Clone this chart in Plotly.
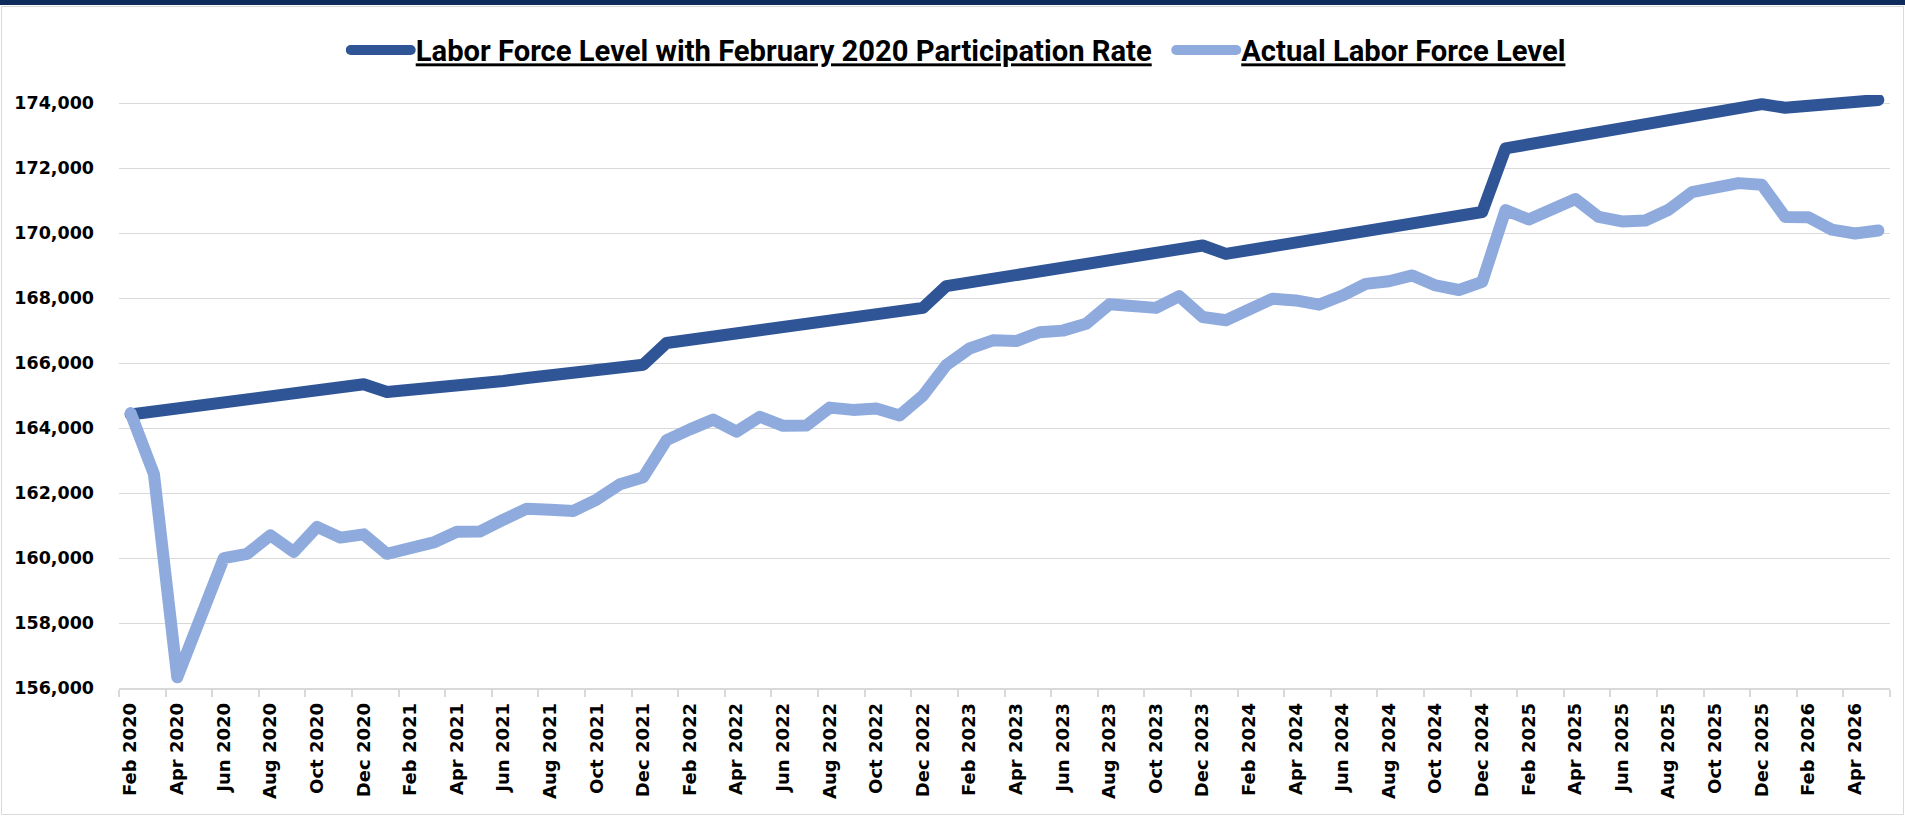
import plotly.graph_objects as go

months = [
    "Feb 2020", "Mar 2020", "Apr 2020", "May 2020", "Jun 2020", "Jul 2020", "Aug 2020", "Sep 2020",
    "Oct 2020", "Nov 2020", "Dec 2020", "Jan 2021", "Feb 2021", "Mar 2021", "Apr 2021", "May 2021",
    "Jun 2021", "Jul 2021", "Aug 2021", "Sep 2021", "Oct 2021", "Nov 2021", "Dec 2021", "Jan 2022",
    "Feb 2022", "Mar 2022", "Apr 2022", "May 2022", "Jun 2022", "Jul 2022", "Aug 2022", "Sep 2022",
    "Oct 2022", "Nov 2022", "Dec 2022", "Jan 2023", "Feb 2023", "Mar 2023", "Apr 2023", "May 2023",
    "Jun 2023", "Jul 2023", "Aug 2023", "Sep 2023", "Oct 2023", "Nov 2023", "Dec 2023", "Jan 2024",
    "Feb 2024", "Mar 2024", "Apr 2024", "May 2024", "Jun 2024", "Jul 2024", "Aug 2024", "Sep 2024",
    "Oct 2024", "Nov 2024", "Dec 2024", "Jan 2025", "Feb 2025", "Mar 2025", "Apr 2025", "May 2025",
    "Jun 2025", "Jul 2025", "Aug 2025", "Sep 2025", "Oct 2025", "Nov 2025", "Dec 2025", "Jan 2026",
    "Feb 2026", "Mar 2026", "Apr 2026", "May 2026",
]

lf_feb2020_rate = [
    164420, 164510, 164600, 164700, 164790, 164890, 164990, 165080, 165170, 165260, 165350,
    165110, 165160, 165210, 165280, 165360, 165450, 165540, 165640, 165720, 165800, 165880, 165950,
    166620, 166720, 166820, 166910, 166970, 167060, 167160, 167260, 167360, 167460, 167580, 167700,
    168370, 168480, 168590, 168700, 168820, 168930, 169040, 169160, 169280, 169390, 169510, 169620,
    169360, 169470, 169580, 169700, 169820, 169940, 170060, 170180, 170310, 170420, 170540, 170650,
    172610, 172730, 172850, 172980, 173110, 173240, 173370, 173500, 173630, 173750, 173860, 173970,
    173860, 173920, 173980, 174040, 174100,
]

lf_actual = [
    164460, 162580, 156330, 158280, 160000, 160130, 160700, 160190, 160960, 160630, 160730,
    160130, 160290, 160480, 160810, 160820, 161180, 161520, 161490, 161450, 161800, 162270, 162490,
    163630, 163960, 164260, 163890, 164350, 164070, 164080, 164630, 164560, 164600, 164390, 165000,
    165940, 166450, 166700, 166680, 166950, 167000, 167210, 167810, 167780, 167700, 168060, 167420,
    167320, 167620, 167980, 167930, 167800, 168080, 168440, 168520, 168700, 168390, 168250, 168500,
    170710, 170420, 170690, 171050, 170500, 170360, 170390, 170720, 171260, 171400, 171540, 171490,
    170500, 170490, 170110, 169990, 170080,
]

tick_labels = months[::2]
y_ticks = [156000, 158000, 160000, 162000, 164000, 166000, 168000, 170000, 172000, 174000]

DARK = "#2F5597"
LIGHT = "#8FAADC"
GRID = "#D9D9D9"

W, H = 1905, 816
ML, MR, MT, MB = 119, 15, 95, 128
PW, PH = W - ML - MR, H - MT - MB

x_idx = list(range(len(months)))
NB = "\u00a0"

fig = go.Figure()
fig.add_trace(go.Scatter(
    x=x_idx, y=lf_feb2020_rate, mode="lines",
    name="<u>Labor Force Level with February 2020 Participation Rate</u>" + NB * 2,
    line=dict(color=DARK, width=12), customdata=months,
    hovertemplate="%{customdata}: %{y:,}<extra></extra>",
))
fig.add_trace(go.Scatter(
    x=x_idx, y=lf_actual, mode="lines",
    name="<u>Actual Labor Force Level</u>",
    line=dict(color=LIGHT, width=12), customdata=months,
    hovertemplate="%{customdata}: %{y:,}<extra></extra>",
))

def px_x(p):
    return (p - ML) / PW

def px_y(p):
    return (H - MB - p) / PH

y_top = 156000 + (174000 - 156000) * PH / (688 - 103.2)

fig.update_layout(
    width=W, height=H,
    margin=dict(l=ML, r=MR, t=MT, b=MB, autoexpand=False),
    paper_bgcolor="white", plot_bgcolor="white",
    showlegend=True,
    legend=dict(
        orientation="h", xref="container", yref="container",
        x=0.503, xanchor="center", y=1 - 50 / H, yanchor="middle",
        font=dict(family="Roboto, Liberation Sans, sans-serif", size=29.2, color="black", weight="bold"),
        itemwidth=60, bgcolor="rgba(0,0,0,0)", traceorder="normal",
    ),
    xaxis=dict(
        range=[-0.5, len(months) - 0.5],
        tickmode="array", tickvals=x_idx[::2], ticktext=tick_labels,
        tickangle=-90, ticks="", showgrid=False, zeroline=False,
        showline=True, linecolor=GRID, linewidth=1.5,
        tickfont=dict(family="DejaVu Sans", size=18, color="black", weight="bold"),
        ticklabelstandoff=6,
        minor=dict(tickmode="linear", tick0=-0.5, dtick=2, ticks="outside",
                   ticklen=7, tickcolor=GRID, tickwidth=1.5, showgrid=False),
    ),
    yaxis=dict(
        range=[156000, y_top],
        tickmode="array", tickvals=y_ticks, tickformat=",d",
        showgrid=True, gridcolor=GRID, gridwidth=1.3,
        zeroline=False, showline=False, ticks="",
        tickfont=dict(family="DejaVu Sans", size=17.5, color="black", weight="bold"),
        ticklabelstandoff=24,
    ),
    shapes=[
        dict(type="rect", xref="paper", yref="paper",
             x0=px_x(0), x1=px_x(W), y0=px_y(5), y1=px_y(0),
             fillcolor="#0E2B5C", line=dict(width=0), layer="above"),
        dict(type="rect", xref="paper", yref="paper",
             x0=px_x(1.5), x1=px_x(W - 1.5), y0=px_y(H - 1.5), y1=px_y(6.5),
             fillcolor="rgba(0,0,0,0)", line=dict(color=GRID, width=1), layer="below"),
    ],
)

post = """
document.documentElement.style.margin='0';
document.body.style.margin='0';
document.body.style.padding='0';
document.body.style.overflow='hidden';
var gd = document.getElementById('{plot_id}');
function rc(){
  gd.querySelectorAll('path.js-line').forEach(function(p){
    p.style.strokeLinecap='round'; p.style.strokeLinejoin='round';
  });
}
rc();
if (gd.on) { gd.on('plotly_afterplot', rc); }
"""

fig.write_html("out.html", post_script=post, config={"displayModeBar": False})
